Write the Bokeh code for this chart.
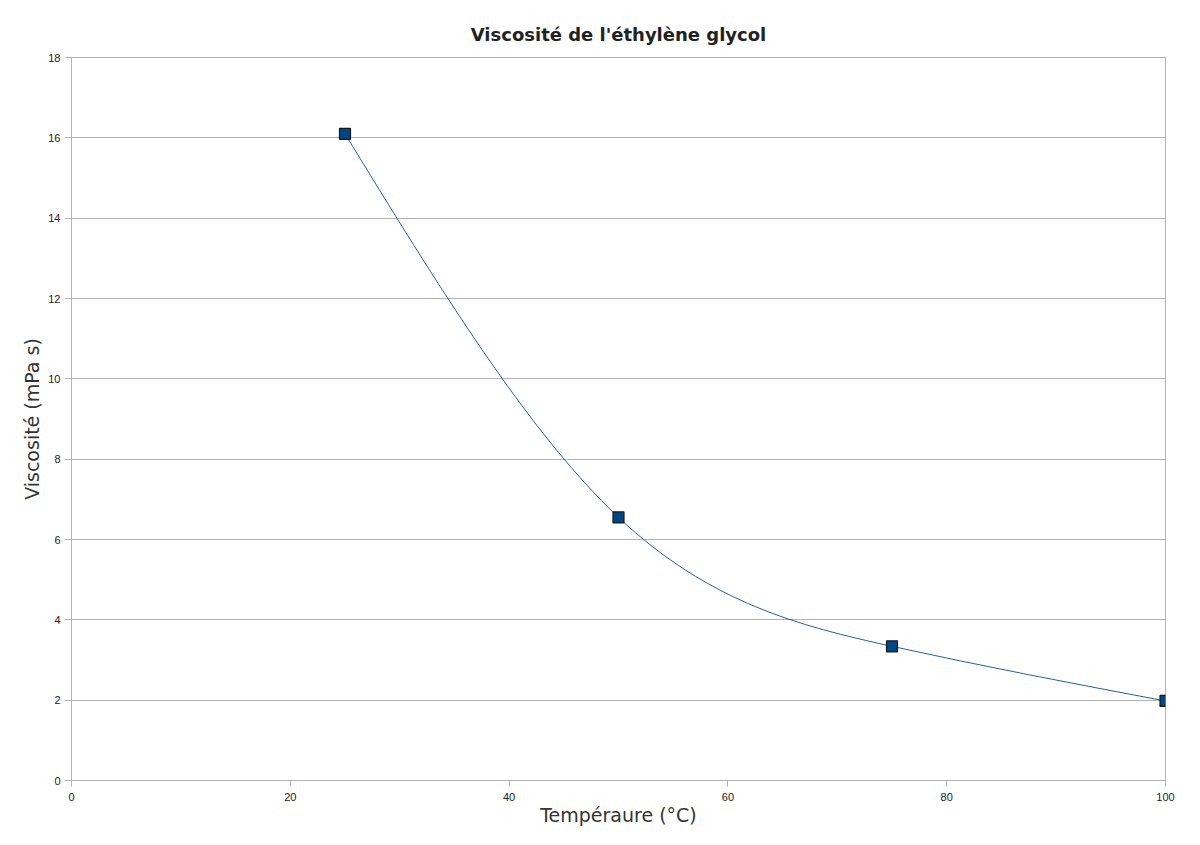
import numpy as np
from bokeh.plotting import figure
from bokeh.models import Range1d, FixedTicker
from bokeh.embed import file_html
from bokeh.resources import INLINE

# Data
temperature = [25, 50, 75, 100]
viscosity = [16.1, 6.55, 3.34, 1.98]
x_ticks = [0, 20, 40, 60, 80, 100]
y_ticks = [0, 2, 4, 6, 8, 10, 12, 14, 16, 18]

GRID = "#b3b3b3"
LINE = "#004586"

p = figure(width=1188, height=837, output_backend="svg", toolbar_location=None,
           x_range=Range1d(0, 100), y_range=Range1d(0, 18),
           min_border_left=71, min_border_right=23, min_border_top=57, min_border_bottom=57,
           title="Viscosité de l'éthylène glycol")
p.title.align = "center"
p.title.text_font = "DejaVu Sans"
p.title.text_font_size = "18px"
p.title.text_font_style = "bold"
p.title.text_color = "#222222"
p.title.offset = 0
p.title.standoff = 26

p.outline_line_color = GRID
p.outline_line_width = 1
p.background_fill_color = "white"
p.border_fill_color = "white"

p.xgrid.visible = False
p.ygrid.grid_line_color = GRID
p.ygrid.ticker = FixedTicker(ticks=y_ticks)

for ax, ticks in ((p.xaxis, x_ticks), (p.yaxis, y_ticks)):
    ax.ticker = FixedTicker(ticks=ticks)
    ax.axis_line_color = GRID
    ax.major_tick_line_color = GRID
    ax.major_tick_out = 6
    ax.major_tick_in = 0
    ax.minor_tick_line_color = None
    ax.major_label_text_font = "Liberation Sans"
    ax.major_label_text_font_size = "11px"
    ax.major_label_text_color = "#222222"
    ax.axis_label_text_font = "DejaVu Sans"
    ax.axis_label_text_font_size = "19px"
    ax.axis_label_text_font_style = "normal"
    ax.axis_label_text_color = "#333333"

p.xaxis.axis_label = "Tempéraure (°C)"
p.yaxis.axis_label = "Viscosité (mPa s)"
p.xaxis.major_label_standoff = 6
p.yaxis.major_label_standoff = 5
p.xaxis.axis_label_standoff = 0
p.yaxis.axis_label_standoff = 2

# Natural cubic spline rendered as Bezier segments through the data points
x = np.array(temperature, dtype=float)
y = np.array(viscosity, dtype=float)
n = len(x)
h = np.diff(x)
A = np.zeros((n, n))
b = np.zeros(n)
A[0, 0] = 1
A[-1, -1] = 1
for i in range(1, n - 1):
    A[i, i - 1] = h[i - 1]
    A[i, i] = 2 * (h[i - 1] + h[i])
    A[i, i + 1] = h[i]
    b[i] = 6 * ((y[i + 1] - y[i]) / h[i] - (y[i] - y[i - 1]) / h[i - 1])
M = np.linalg.solve(A, b)
slopes = np.zeros(n)
for i in range(n - 1):
    slopes[i] = (y[i + 1] - y[i]) / h[i] - h[i] * (2 * M[i] + M[i + 1]) / 6
slopes[-1] = (y[-1] - y[-2]) / h[-1] + h[-1] * (M[-2] + 2 * M[-1]) / 6

x0, y0, x1, y1 = x[:-1], y[:-1], x[1:], y[1:]
cx0 = x0 + h / 3
cy0 = y0 + slopes[:-1] * h / 3
cx1 = x1 - h / 3
cy1 = y1 - slopes[1:] * h / 3
p.bezier(x0=x0, y0=y0, x1=x1, y1=y1, cx0=cx0, cy0=cy0, cx1=cx1, cy1=cy1,
         line_color=LINE, line_width=1, line_alpha=0.85)

p.scatter(temperature, viscosity, marker="square", size=11,
          fill_color=LINE, line_color="#1a1a1a", line_width=1.2)

open("out.html", "w").write(file_html(p, INLINE))
